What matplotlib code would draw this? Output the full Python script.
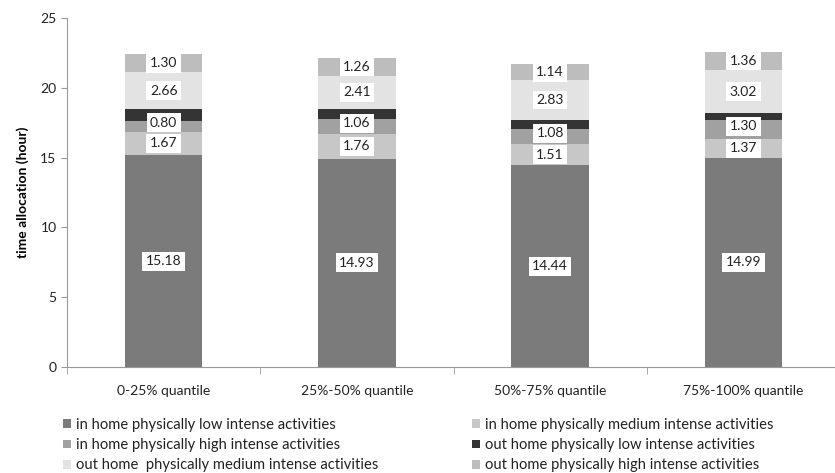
import matplotlib
matplotlib.use("Agg")
import matplotlib.pyplot as plt
import numpy as np

plt.rcParams['font.family'] = ['Lato', 'DejaVu Sans']

# quantile groups and hours per activity type
quantiles = ["0-25% quantile", "25%-50% quantile", "50%-75% quantile", "75%-100% quantile"]
in_low = [15.18, 14.93, 14.44, 14.99]
in_medium = [1.67, 1.76, 1.51, 1.37]
in_high = [0.80, 1.06, 1.08, 1.30]
out_low = [0.80, 0.72, 0.68, 0.56]
out_medium = [2.66, 2.41, 2.83, 3.02]
out_high = [1.30, 1.26, 1.14, 1.36]

series = [
    ("in home physically low intense activities", in_low, "#7b7b7b", True),
    ("in home physically medium intense activities", in_medium, "#c7c7c7", True),
    ("in home physically high intense activities", in_high, "#a1a1a1", True),
    ("out home physically low intense activities", out_low, "#343434", False),
    ("out home  physically medium intense activities", out_medium, "#e3e3e3", True),
    ("out home physically high intense activities", out_high, "#bdbdbd", True),
]

fig = plt.figure(figsize=(8.35, 4.73), dpi=100)
ax = fig.add_axes([67 / 835, 106 / 473, 773 / 835, 349 / 473])

x = np.arange(len(quantiles))
bottom = np.zeros(len(quantiles))
handles = {}
for i, (name, vals, color, labelled) in enumerate(series):
    bars = ax.bar(x, vals, width=0.4, bottom=bottom, color=color, label=name)
    handles[name] = bars
    if labelled:
        anns = ax.bar_label(bars, labels=["%.2f" % v for v in vals], label_type="center",
                            fontsize=10, color="#222222",
                            bbox=dict(boxstyle="square,pad=0.25", fc="white", ec="none"))
        # nudge the thin in-home high labels up so they clear the one below
        if i == 2:
            for a in anns:
                a.xyann = (0, 2.5)
    bottom += np.array(vals)

ax.set_xlim(-0.5, 3.5)
ax.set_ylim(0, 25)
ax.set_yticks([0, 5, 10, 15, 20, 25])
ax.set_xticks(x)
ax.set_xticklabels(quantiles, fontsize=10, color="#222222")
ax.set_xticks(np.arange(-0.5, 4.0, 1.0), minor=True)
ax.tick_params(axis="x", which="major", length=0, pad=13)
ax.tick_params(axis="x", which="minor", length=5, color="#999999")
ax.tick_params(axis="y", length=4, color="#999999", labelsize=10, labelcolor="#222222")
ax.set_ylabel("time allocation (hour)", fontsize=10, fontweight="bold", labelpad=8)

for side in ["top", "right"]:
    ax.spines[side].set_visible(False)
for side in ["left", "bottom"]:
    ax.spines[side].set_color("#999999")

# legend filled column-wise, so reorder to read row by row
names = [s[0] for s in series]
order = [0, 2, 4, 1, 3, 5]
leg = fig.legend([handles[names[i]] for i in order], [names[i] for i in order],
                 ncol=2, loc="upper left", bbox_to_anchor=(63 / 835, 1 - 418 / 473),
                 frameon=False, fontsize=10.6, handlelength=0.55, handleheight=0.55,
                 handletextpad=0.3, columnspacing=6.4, labelspacing=0.42,
                 borderaxespad=0, borderpad=0)
for t in leg.get_texts():
    t.set_color("#222222")

fig.savefig("out.png", dpi=100)
